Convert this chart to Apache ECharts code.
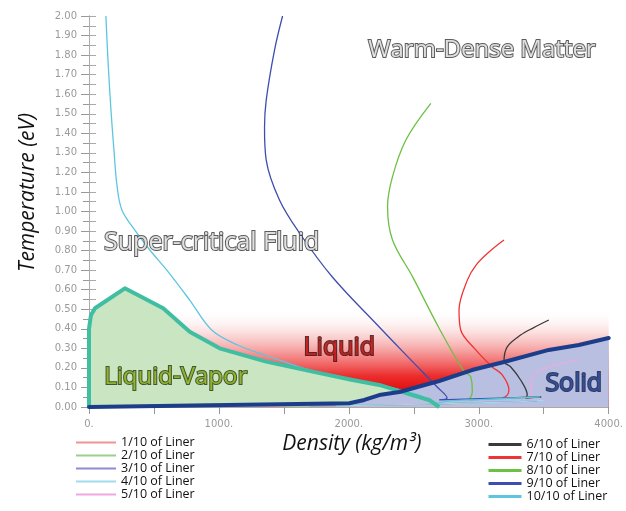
<!DOCTYPE html>
<html>
<head>
<meta charset="utf-8">
<script src="https://cdn.jsdelivr.net/npm/echarts@6/dist/echarts.min.js"></script>
<style>
  html, body { margin: 0; padding: 0; background: #fff; }
  #chart { width: 626px; height: 511px; }
</style>
</head>
<body>
<div id="chart"></div>
<script>
// Axis ranges and tick labels
const densityRange = [0, 4000];
const densityLabelled = [0, 1000, 2000, 3000, 4000];
const temperatureRange = [0, 2];

// Phase boundaries: [density kg/m3, temperature eV]
const liquidVaporDome = [[0, 0], [0, 0.40], [15, 0.47], [46, 0.505], [276, 0.607], [571, 0.505],
  [775, 0.385], [1006, 0.30], [1364, 0.232], [1722, 0.181], [2029, 0.138], [2234, 0.113],
  [2490, 0.061], [2618, 0.036], [2695, 0]];
const solidus = [[0, 0], [2004, 0.019], [2119, 0.036], [2234, 0.061], [2388, 0.077], [2695, 0.133],
  [2948, 0.189], [3194, 0.23], [3539, 0.292], [3770, 0.317], [4000, 0.353]];
const liquidHazeTop = [[600, 0.5], [4000, 0.5]];

// Liner trajectories (density, temperature)
const liner1 = [[1300, 0.004], [1900, 0.006], [2500, 0.012], [2900, 0.02]];
const liner2 = [[1500, 0.004], [2300, 0.01], [2850, 0.02], [3100, 0.025]];
const liner3 = [[1700, 0.005], [2600, 0.014], [3200, 0.026], [3450, 0.03]];
const liner4 = [[1900, 0.006], [2800, 0.018], [3350, 0.028], [3500, 0.033]];
const liner5 = [[3770, 0.24], [3620, 0.22], [3514, 0.198], [3424, 0.164], [3399, 0.113], [3411, 0.061], [3460, 0.05]];
const liner6 = [[3539, 0.445], [3420, 0.405], [3322, 0.368], [3219, 0.308], [3194, 0.232], [3245, 0.206],
  [3322, 0.138], [3373, 0.061], [3360, 0.045], [3480, 0.052]];
const liner7 = [[3194, 0.854], [3079, 0.793], [2979, 0.726], [2912, 0.649], [2848, 0.496], [2861, 0.394],
  [2977, 0.292], [3104, 0.205], [3181, 0.164], [3232, 0.087], [3219, 0.061], [3181, 0.045], [3480, 0.052]];
const liner8 = [[2631, 1.553], [2439, 1.366], [2336, 1.178], [2298, 1.025], [2336, 0.854], [2490, 0.667],
  [2695, 0.403], [2887, 0.181], [2938, 0.155], [2950, 0.077], [2925, 0.036], [3480, 0.052]];
const liner9 = [[1490, 2.0], [1428, 1.826], [1364, 1.57], [1351, 1.43], [1364, 1.263], [1466, 1.059],
  [1620, 0.89], [1873, 0.665], [2234, 0.409], [2464, 0.25], [2680, 0.102], [2756, 0.046],
  [2695, 0.036], [3480, 0.052]];
const liner10 = [[130, 2.0], [146, 1.775], [169, 1.519], [192, 1.315], [215, 1.136], [253, 1.008],
  [353, 0.905], [468, 0.803], [599, 0.70], [775, 0.547], [944, 0.394], [1144, 0.317], [1351, 0.266],
  [1774, 0.174], [2234, 0.113], [2541, 0.061], [2680, 0.02], [2760, 0.03], [3000, 0.038], [3470, 0.052]];

const linerNames = ['1/10 of Liner', '2/10 of Liner', '3/10 of Liner', '4/10 of Liner', '5/10 of Liner',
  '6/10 of Liner', '7/10 of Liner', '8/10 of Liner', '9/10 of Liner', '10/10 of Liner'];
const linerData = [liner1, liner2, liner3, liner4, liner5, liner6, liner7, liner8, liner9, liner10];
const linerColors = ['#f29494', '#9bd08c', '#8c8cd2', '#9fdcee', '#eeaadc',
  '#3a3a3a', '#ee3434', '#6cc044', '#3d4db0', '#5cc6e0'];

// Region labels: [density, temperature, text]
const regionLabels = [
  [3025, 1.826, 'Warm-Dense Matter'],
  [944, 0.839, 'Super-critical Fluid'],
  [1927, 0.302, 'Liquid'],
  [668, 0.153, 'Liquid-Vapor'],
  [3731, 0.118, 'Solid']
];
const regionLabelStyles = [
  { color: '#ffffff', textBorderColor: '#333333', size: 24 },
  { color: '#ffffff', textBorderColor: '#333333', size: 25 },
  { color: '#e41c1c', textBorderColor: '#2a0c0c', size: 25 },
  { color: '#a3cc2e', textBorderColor: '#24300c', size: 24 },
  { color: '#3152a4', textBorderColor: '#101c44', size: 25 }
];

const chart = echarts.init(document.getElementById('chart'), null, { renderer: 'canvas' });

const linerSeries = linerData.map((d, i) => ({
  name: linerNames[i],
  type: 'line',
  data: d,
  smooth: 0.35,
  symbol: 'none',
  z: 4,
  lineStyle: { color: linerColors[i], width: i < 5 ? 1.1 : 1.3 },
  itemStyle: { color: linerColors[i] },
  silent: true
}));

const legendText = { fontSize: 12.5, color: '#111', fontFamily: 'Open Sans' };

const option = {
  animation: false,
  backgroundColor: '#ffffff',
  grid: { left: 89, right: 16, top: 16, bottom: 104, containLabel: false },
  legend: [
    {
      data: linerNames.slice(0, 5),
      orient: 'vertical', left: 75, top: 436, padding: 0,
      itemWidth: 40, itemHeight: 14, itemGap: 0,
      lineStyle: { width: 2 },
      itemStyle: { opacity: 0 },
      textStyle: legendText,
      selectedMode: false
    },
    {
      data: linerNames.slice(5),
      orient: 'vertical', left: 487, top: 438, padding: 0,
      itemWidth: 33, itemHeight: 14.2, itemGap: 0,
      lineStyle: { width: 3 },
      itemStyle: { opacity: 0 },
      textStyle: legendText,
      selectedMode: false
    }
  ],
  xAxis: [
    {
      type: 'value', position: 'bottom', min: densityRange[0], max: densityRange[1], interval: 500,
      name: 'Density (kg/m³)', nameLocation: 'middle', nameGap: 21,
      nameTextStyle: { fontSize: 21, fontStyle: 'italic', color: '#111', fontFamily: 'Open Sans', padding: [0, 0, 0, 6] },
      axisLine: { lineStyle: { color: '#999' } },
      axisTick: { length: 7, lineStyle: { color: '#999' } },
      axisLabel: {
        margin: 12, fontSize: 10, color: '#9a9a9a', fontFamily: 'DejaVu Sans',
        formatter: v => densityLabelled.includes(v) ? v + '.' : ''
      },
      splitLine: { show: false }
    },
    {
      type: 'value', position: 'top', min: densityRange[0], max: densityRange[1], interval: 500,
      axisLine: { lineStyle: { color: '#aaa' } },
      axisTick: { length: 8, lineStyle: { color: '#aaa' } },
      axisLabel: { show: false },
      splitLine: { show: false }
    }
  ],
  yAxis: [
    {
      type: 'value', position: 'left', min: temperatureRange[0], max: temperatureRange[1], interval: 0.1,
      name: 'Temperature (eV)', nameLocation: 'middle', nameGap: 50, nameRotate: 90,
      nameTextStyle: { fontSize: 21, fontStyle: 'italic', color: '#111', fontFamily: 'Open Sans', padding: [0, 0, 0, 38] },
      axisLine: { show: true, lineStyle: { color: '#999' } },
      axisTick: { show: true, length: 8, lineStyle: { color: '#999' } },
      minorTick: { show: true, splitNumber: 2, length: 6, lineStyle: { color: '#999' } },
      axisLabel: { margin: 12, fontSize: 10, color: '#9a9a9a', fontFamily: 'DejaVu Sans', formatter: v => v.toFixed(2) },
      splitLine: { show: false }
    },
    {
      type: 'value', position: 'right', min: temperatureRange[0], max: temperatureRange[1], interval: 0.05,
      axisLine: { show: true, lineStyle: { color: '#aaa' } },
      axisTick: { show: true, length: 7, lineStyle: { color: '#aaa' } },
      axisLabel: { show: false },
      splitLine: { show: false }
    }
  ],
  series: [
    {
      // red glow of the liquid region
      type: 'line', data: liquidHazeTop, symbol: 'none', silent: true, z: 1,
      lineStyle: { width: 0, opacity: 0 },
      areaStyle: {
        opacity: 1,
        color: new echarts.graphic.LinearGradient(0, 0, 0, 1, [
          { offset: 0, color: 'rgba(255,255,255,0)' },
          { offset: 0.27, color: 'rgba(244,150,150,0.4)' },
          { offset: 0.48, color: 'rgba(240,90,90,0.72)' },
          { offset: 0.68, color: 'rgba(234,30,30,0.93)' },
          { offset: 0.85, color: 'rgba(228,8,8,1)' },
          { offset: 1, color: 'rgba(228,0,0,1)' }
        ])
      }
    },
    {
      // liquid-vapor coexistence fill
      type: 'line', data: liquidVaporDome, symbol: 'none', silent: true, z: 2,
      lineStyle: { width: 0, opacity: 0 },
      areaStyle: { color: '#c9e5c1', opacity: 1 }
    },
    {
      // solid region fill
      type: 'line', data: solidus, symbol: 'none', silent: true, z: 3,
      lineStyle: { width: 0, opacity: 0 },
      areaStyle: { color: '#b9bfe1', opacity: 1 }
    },
    ...linerSeries,
    {
      // liquid-vapor boundary
      type: 'line', data: liquidVaporDome, symbol: 'none', silent: true, z: 5,
      lineStyle: { color: '#3fbea2', width: 4, join: 'round' }
    },
    {
      // melting line
      type: 'line', data: solidus, symbol: 'none', silent: true, z: 6,
      lineStyle: { color: '#1b3d8a', width: 4, join: 'round', cap: 'round' }
    },
    {
      // region names
      type: 'scatter', symbolSize: 0, silent: true, z: 10,
      data: regionLabels.map((r, i) => ({
        value: [r[0], r[1]],
        label: {
          show: true, position: 'inside', formatter: r[2],
          fontSize: regionLabelStyles[i].size, fontFamily: 'Open Sans',
          color: regionLabelStyles[i].color,
          textBorderColor: regionLabelStyles[i].textBorderColor,
          textBorderWidth: 2
        }
      }))
    }
  ]
};

chart.setOption(option);
</script>
</body>
</html>
